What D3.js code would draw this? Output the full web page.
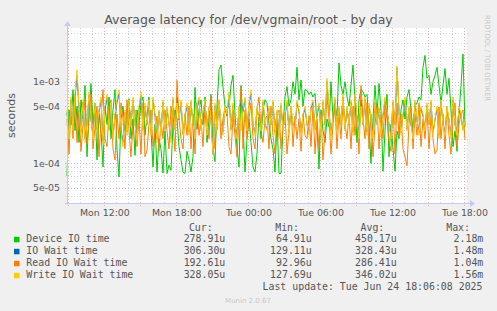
<!DOCTYPE html>
<html>
<head>
<meta charset="utf-8">
<script src="https://cdn.jsdelivr.net/npm/d3@7"></script>
<style>
  html, body { margin: 0; padding: 0; background: #F0F0F0; }
  svg { display: block; }
</style>
</head>
<body>
<div id="chart"></div>
<script>
// series values in microseconds, one point every 10 minutes
const deviceIO = [
  70, 450, 300, 800, 250, 500, 180, 600, 350, 900, 120, 400, 950, 300, 550, 110, 400, 250, 90, 500,
  300, 650, 200, 450, 800, 150, 68, 350, 500, 250, 400, 620, 200, 350, 125, 450, 300, 550, 650, 220,
  380, 650, 250, 90, 300, 78, 200, 150, 76, 250, 75, 95, 82, 300, 450, 350, 160, 110, 78, 75,
  140, 110, 78, 120, 850, 260, 450, 600, 300, 650, 180, 350, 700, 150, 105, 500, 1400, 1600, 850, 500,
  480, 500, 900, 1200, 400, 150, 90, 900, 300, 78, 200, 350, 180, 90, 78, 130, 400, 200, 450, 600,
  550, 300, 200, 150, 78, 350, 75, 75, 280, 650, 870, 500, 600, 1000, 700, 1500, 600, 1050, 500, 800,
  780, 700, 750, 650, 720, 300, 85, 450, 250, 180, 350, 280, 1000, 350, 500, 380, 1700, 900, 700, 1000,
  650, 500, 900, 1600, 600, 180, 600, 800, 750, 650, 700, 300, 100, 350, 900, 400, 950, 450, 80, 250,
  700, 120, 300, 150, 80, 250, 200, 450, 600, 350, 650, 800, 450, 250, 500, 550, 650, 600, 1500, 2100,
  1100, 1200, 700, 1000, 1200, 1500, 900, 550, 900, 1450, 700, 1100, 450, 160, 250, 140, 400, 900, 2180, 279
];
const ioWait = [
  420, 220, 600, 260, 650, 1200, 470, 240, 560, 200, 300, 680, 340, 220, 500, 260, 420, 600, 190, 460,
  640, 260, 520, 220, 380, 560, 720, 260, 180, 420, 240, 560, 290, 600, 310, 200, 460, 680, 260, 500,
  300, 560, 240, 600, 380, 200, 430, 240, 560, 260, 470, 300, 200, 600, 260, 650, 340, 560, 230, 380,
  510, 240, 560, 300, 210, 470, 600, 260, 380, 560, 240, 470, 350, 130, 510, 260, 560, 300, 240, 470,
  380, 680, 260, 510, 300, 210, 470, 550, 430, 600, 260, 510, 720, 300, 240, 470, 350, 260, 560, 300,
  260, 470, 300, 560, 240, 430, 220, 510, 260, 380, 560, 240, 470, 300, 260, 560, 430, 240, 380, 470,
  300, 240, 470, 560, 260, 380, 510, 240, 560, 300, 1000, 430, 220, 380, 600, 260, 470, 300, 650, 260,
  470, 300, 560, 240, 650, 340, 220, 600, 300, 600, 240, 510, 340, 220, 560, 300, 470, 240, 380, 600,
  430, 300, 220, 560, 300, 1480, 430, 240, 380, 600, 260, 470, 300, 220, 560, 340, 240, 470, 380, 260,
  510, 300, 560, 240, 340, 470, 220, 560, 300, 240, 470, 340, 220, 600, 300, 240, 470, 380, 260, 306
];
const readWait = [
  350, 130, 500, 200, 650, 180, 450, 140, 300, 600, 170, 350, 700, 150, 280, 500, 120, 350, 800, 200,
  160, 450, 600, 150, 110, 400, 200, 550, 350, 150, 600, 250, 120, 300, 450, 160, 350, 130, 550, 120,
  145, 300, 450, 160, 250, 380, 140, 320, 200, 450, 250, 150, 500, 300, 140, 1040, 350, 200, 150, 400,
  220, 500, 150, 400, 130, 550, 220, 350, 160, 500, 300, 200, 650, 300, 150, 450, 600, 200, 350, 500,
  400, 160, 130, 380, 220, 120, 350, 850, 150, 450, 200, 350, 550, 200, 150, 450, 650, 250, 180, 350,
  380, 150, 500, 220, 130, 400, 450, 150, 300, 400, 130, 250, 500, 160, 380, 200, 350, 140, 400, 220,
  200, 380, 160, 500, 130, 350, 150, 400, 110, 250, 650, 350, 130, 300, 500, 150, 400, 200, 550, 300,
  200, 400, 150, 500, 220, 380, 130, 900, 350, 200, 550, 150, 400, 120, 300, 500, 150, 380, 200, 550,
  350, 180, 140, 500, 130, 550, 220, 400, 150, 120, 93, 300, 500, 150, 400, 220, 550, 160, 350, 200,
  450, 150, 380, 200, 130, 145, 490, 200, 400, 150, 500, 220, 130, 380, 550, 160, 300, 400, 450, 193
];
const writeWait = [
  450, 200, 650, 250, 700, 1400, 500, 220, 600, 180, 300, 750, 350, 200, 550, 250, 450, 650, 170, 500,
  700, 250, 550, 200, 400, 600, 800, 250, 160, 450, 220, 600, 280, 650, 300, 190, 500, 750, 250, 550,
  300, 600, 220, 650, 400, 180, 450, 220, 600, 250, 500, 300, 180, 650, 250, 550, 350, 600, 220, 400,
  550, 220, 600, 300, 200, 500, 650, 250, 400, 600, 220, 500, 350, 128, 550, 250, 600, 300, 220, 500,
  400, 750, 250, 550, 300, 200, 500, 250, 450, 650, 250, 550, 800, 300, 220, 500, 350, 250, 600, 300,
  250, 500, 300, 600, 220, 450, 200, 550, 250, 400, 600, 220, 500, 300, 250, 600, 450, 220, 400, 500,
  300, 220, 500, 600, 250, 400, 550, 220, 600, 300, 1100, 450, 200, 400, 650, 250, 500, 300, 700, 250,
  500, 300, 600, 220, 700, 350, 200, 500, 300, 650, 220, 550, 350, 200, 600, 300, 500, 220, 400, 650,
  450, 300, 200, 600, 300, 1560, 450, 220, 400, 650, 250, 500, 300, 200, 600, 350, 220, 500, 400, 250,
  550, 300, 600, 220, 350, 500, 200, 600, 300, 220, 500, 350, 200, 650, 300, 220, 500, 400, 250, 328
];

const seriesNames = ['Device IO time', 'IO Wait time', 'Read IO Wait time', 'Write IO Wait time'];
const seriesColors = ['#00CC00', '#0066B3', '#FF8000', '#FFCC00'];
const curLabels = ['278.91u', '306.30u', '192.61u', '328.05u'];
const minLabels = ['64.91u', '129.11u', '92.96u', '127.69u'];
const avgLabels = ['450.17u', '328.43u', '286.41u', '346.02u'];
const maxLabels = ['2.18m', '1.48m', '1.04m', '1.56m'];
const yTickValues = [5e-5, 1e-4, 5e-4, 1e-3];
const yTickLabels = ['5e-05', '1e-04', '5e-04', '1e-03'];

const W = 497, H = 311;
const plot = { left: 67, right: 467, top: 28, bottom: 203 };
const startTime = new Date(2025, 5, 23, 8, 53);
const endTime = new Date(2025, 5, 24, 18, 13);

const svg = d3.select('#chart').append('svg')
    .attr('width', W).attr('height', H)
    .style('font-family', 'DejaVu Sans, sans-serif');

svg.append('rect').attr('width', W).attr('height', H).attr('fill', '#F0F0F0');
svg.append('rect')
    .attr('x', plot.left).attr('y', plot.top)
    .attr('width', plot.right - plot.left).attr('height', plot.bottom - plot.top)
    .attr('fill', '#FFFFFF');

const x = d3.scaleTime().domain([startTime, endTime]).range([plot.left, plot.right]);
const y = d3.scaleLog().domain([3.26e-5, 4.55e-3]).range([plot.bottom, plot.top]);

// grid
const minorColor = '#D4D4D4';
const majorColor = '#F2B0B0';
const grid = svg.append('g').attr('shape-rendering', 'crispEdges');
const minorY = [];
for (let e = -5; e <= -3; e++) {
    for (let k = 1; k <= 9; k++) {
        const v = k * Math.pow(10, e);
        if (v >= y.domain()[0] && v <= y.domain()[1] && yTickValues.indexOf(+v.toPrecision(3)) < 0) minorY.push(v);
    }
}
grid.selectAll('.minor-y').data(minorY).join('line')
    .attr('x1', plot.left - 2).attr('x2', plot.right + 2)
    .attr('y1', d => Math.round(y(d)) + 0.5).attr('y2', d => Math.round(y(d)) + 0.5)
    .attr('stroke', minorColor).attr('stroke-dasharray', '1,2');

const hourTicks = d3.timeHour.every(1).range(startTime, endTime);
grid.selectAll('.minor-x').data(hourTicks.filter(d => d.getHours() % 3 !== 0)).join('line')
    .attr('x1', d => Math.round(x(d)) + 0.5).attr('x2', d => Math.round(x(d)) + 0.5)
    .attr('y1', plot.top).attr('y2', plot.bottom + 2)
    .attr('stroke', minorColor).attr('stroke-dasharray', '1,2');

grid.selectAll('.major-y').data(yTickValues).join('line')
    .attr('x1', plot.left - 2).attr('x2', plot.right + 2)
    .attr('y1', d => Math.round(y(d)) + 0.5).attr('y2', d => Math.round(y(d)) + 0.5)
    .attr('stroke', majorColor).attr('stroke-dasharray', '1,2');

const majorX = hourTicks.filter(d => d.getHours() % 3 === 0);
grid.selectAll('.major-x').data(majorX).join('line')
    .attr('x1', d => Math.round(x(d)) + 0.5).attr('x2', d => Math.round(x(d)) + 0.5)
    .attr('y1', plot.top).attr('y2', plot.bottom + 3)
    .attr('stroke', majorColor).attr('stroke-dasharray', '1,2');

// series lines
const allSeries = [deviceIO, ioWait, readWait, writeWait];
const line = d3.line()
    .x((d, i) => x(d3.timeMinute.offset(startTime, i * 10)))
    .y(d => y(d * 1e-6));

allSeries.forEach((values, i) => {
    svg.append('path')
        .datum(values)
        .attr('fill', 'none')
        .attr('stroke', seriesColors[i])
        .attr('stroke-width', 1)
        .attr('stroke-linejoin', 'round')
        .attr('d', line);
});

// axes
const axisColor = '#C8C8F4';
svg.append('line')
    .attr('x1', plot.left - 2).attr('x2', plot.right + 4)
    .attr('y1', plot.bottom + 0.5).attr('y2', plot.bottom + 0.5)
    .attr('stroke', axisColor);
svg.append('line')
    .attr('x1', plot.left + 0.5).attr('x2', plot.left + 0.5)
    .attr('y1', plot.bottom + 2).attr('y2', plot.top - 4)
    .attr('stroke', axisColor);
svg.append('path')
    .attr('d', `M${plot.right + 3},${plot.bottom - 3} L${plot.right + 8},${plot.bottom + 0.5} L${plot.right + 3},${plot.bottom + 4} Z`)
    .attr('fill', axisColor);
svg.append('path')
    .attr('d', `M${plot.left - 3},${plot.top - 2} L${plot.left + 0.5},${plot.top - 7} L${plot.left + 4},${plot.top - 2} Z`)
    .attr('fill', axisColor);

// tick labels
const textColor = '#555555';
svg.selectAll('.ylab').data(yTickValues).join('text')
    .attr('x', 60).attr('y', d => y(d) + 3.5)
    .attr('text-anchor', 'end')
    .attr('font-size', '9.4px').attr('fill', textColor)
    .text((d, i) => yTickLabels[i]);

const fmt = d3.timeFormat('%a %H:%M');
svg.selectAll('.xlab').data(hourTicks.filter(d => d.getHours() % 6 === 0)).join('text')
    .attr('x', d => x(d) + 0.5).attr('y', 216)
    .attr('text-anchor', 'middle')
    .attr('font-size', '9.4px').attr('fill', textColor)
    .text(d => fmt(d));

// title, unit, watermark
svg.append('text')
    .attr('x', W / 2).attr('y', 24)
    .attr('text-anchor', 'middle')
    .attr('font-size', '12.5px').attr('fill', textColor)
    .text('Average latency for /dev/vgmain/root - by day');

svg.append('text')
    .attr('transform', `translate(15,${(plot.top + plot.bottom) / 2}) rotate(-90)`)
    .attr('text-anchor', 'middle')
    .attr('font-size', '11px').attr('fill', textColor)
    .text('seconds');

svg.append('text')
    .attr('transform', 'translate(485,15) rotate(90)')
    .attr('font-size', '7px').attr('fill', '#C8C8C8')
    .attr('textLength', 86).attr('lengthAdjust', 'spacingAndGlyphs')
    .text('RRDTOOL / TOBI OETIKER');

// legend
const mono = 'DejaVu Sans Mono, monospace';
const legend = svg.append('g').attr('font-family', mono).attr('font-size', '9.9px').attr('fill', textColor);
const headers = ['Cur:', 'Min:', 'Avg:', 'Max:'];
const headerX = [212.7, 299, 384.3, 470];
const colX = [225.3, 311.7, 396.7, 483.3];
headers.forEach((h, i) => {
    legend.append('text').attr('x', headerX[i]).attr('y', 230.5).attr('text-anchor', 'end').text(h);
});
const columns = [curLabels, minLabels, avgLabels, maxLabels];
seriesNames.forEach((name, i) => {
    const by = 242.3 + i * 12;
    legend.append('rect')
        .attr('x', 14).attr('y', by - 5.5).attr('width', 5.5).attr('height', 5.5)
        .attr('fill', seriesColors[i]);
    legend.append('text').attr('x', 26.3).attr('y', by).text(name);
    columns.forEach((col, j) => {
        legend.append('text').attr('x', colX[j]).attr('y', by).attr('text-anchor', 'end').text(col[i]);
    });
});
legend.append('text').attr('x', 482.5).attr('y', 290.3).attr('text-anchor', 'end')
    .text('Last update: Tue Jun 24 18:06:08 2025');

svg.append('text')
    .attr('x', 248).attr('y', 302.5)
    .attr('text-anchor', 'middle')
    .attr('font-size', '7px').attr('fill', '#C8C8C8')
    .text('Munin 2.0.67');
</script>
</body>
</html>
